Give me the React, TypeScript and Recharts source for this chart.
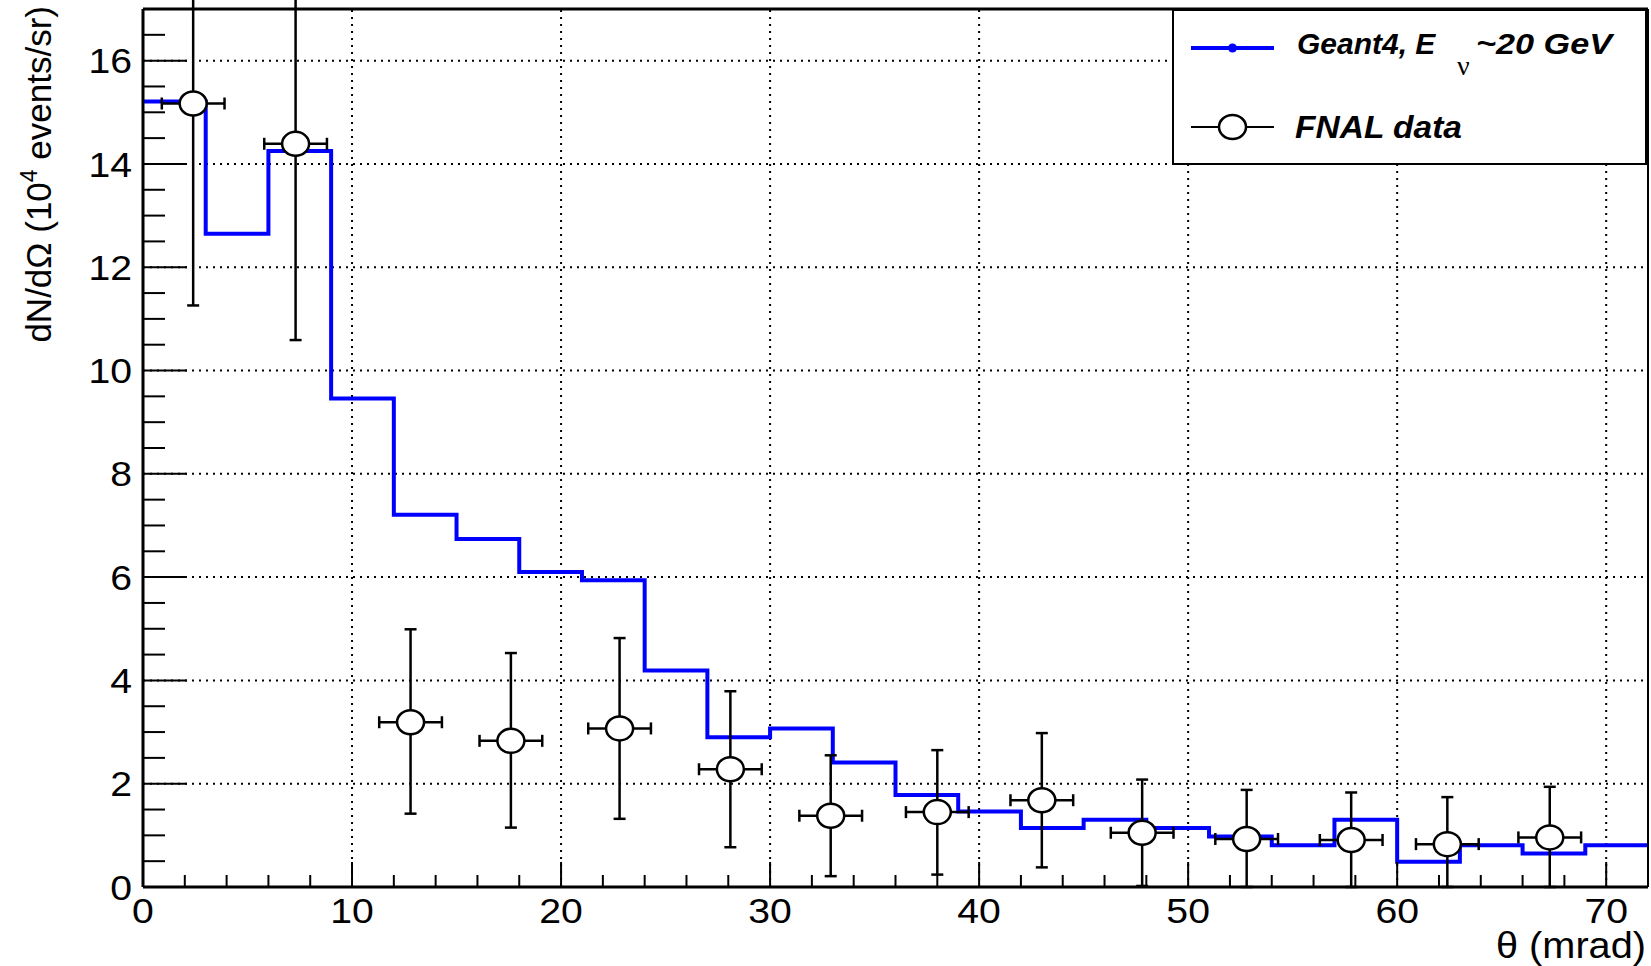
import {
  ComposedChart, Line, Scatter, ErrorBar, XAxis, YAxis, ReferenceLine, Legend
} from 'recharts';

// Geant4 histogram: 3 mrad bins, lower edges
const g4BinLow = [0, 3, 6, 9, 12, 15, 18, 21, 24, 27, 30, 33, 36, 39, 42, 45, 48, 51, 54, 57, 60, 63, 66, 69];
const g4Values = [15.21, 12.65, 14.25, 9.46, 7.21, 6.74, 6.10, 5.94, 4.19, 2.90, 3.07, 2.41, 1.78, 1.46, 1.14, 1.30, 1.14, 0.98, 0.81, 1.30, 0.49, 0.81, 0.65, 0.81];
const X_MAX = 72;
const Y_MAX = 17;

// FNAL data points
const fnalTheta = [2.4, 7.3, 12.8, 17.6, 22.8, 28.1, 32.9, 38.0, 43.0, 47.8, 52.8, 57.8, 62.4, 67.3];
const fnalValues = [15.17, 14.39, 3.19, 2.83, 3.07, 2.28, 1.38, 1.45, 1.68, 1.05, 0.93, 0.91, 0.83, 0.96];
const fnalErrLow = [3.91, 3.80, 1.77, 1.68, 1.75, 1.51, 1.17, 1.21, 1.30, 1.03, 0.93, 0.91, 0.83, 0.96];
const fnalErrHigh = [3.91, 3.80, 1.80, 1.70, 1.75, 1.51, 1.17, 1.20, 1.30, 1.03, 0.95, 0.92, 0.91, 0.98];
const fnalThetaErr = [1.5, 1.5, 1.5, 1.5, 1.5, 1.5, 1.5, 1.5, 1.5, 1.5, 1.5, 1.5, 1.5, 1.5];

const xMajor = [10, 20, 30, 40, 50, 60, 70];
const yMajor = [2, 4, 6, 8, 10, 12, 14, 16];
const xTicks = Array.from({ length: 37 }, (_, i) => i * 2);
const yTicks = Array.from({ length: 34 }, (_, i) => i * 0.5);

const histData = [
  ...g4BinLow.map((x, i) => ({ x, y: g4Values[i] })),
  { x: X_MAX, y: g4Values[g4Values.length - 1] },
];

const fnalData = fnalTheta.map((x, i) => ({
  x,
  y: fnalValues[i],
  ex: fnalThetaErr[i],
  ey: [fnalErrLow[i], fnalErrHigh[i]],
}));

const FONT = '"Liberation Sans", Arial, Helvetica, sans-serif';

const XTick = (props: any) => {
  const { x, y, payload } = props;
  const v = payload.value;
  const major = v % 10 === 0;
  return (
    <g>
      {v > 0 && v < X_MAX && (
        <line x1={x} x2={x} y1={y} y2={y - (major ? 25 : 12)} stroke="#000" strokeWidth={2} />
      )}
      {major && (
        <text transform={`translate(${x},${y + 36}) scale(1.12,1)`} textAnchor="middle" fontSize={35} fill="#000" fontFamily={FONT}>{v}</text>
      )}
    </g>
  );
};

const YTick = (props: any) => {
  const { x, y, payload } = props;
  const v = payload.value;
  const major = v % 2 === 0;
  return (
    <g>
      {v > 0 && (
        <line x1={x} x2={x + (major ? 44 : 22)} y1={y} y2={y} stroke="#000" strokeWidth={2} />
      )}
      {major && (
        <text transform={`translate(${x - 11},${y}) scale(1.12,1)`} dy="0.36em" textAnchor="end" fontSize={35} fill="#000" fontFamily={FONT}>{v}</text>
      )}
    </g>
  );
};

const OpenCircle = (props: any) => (
  <ellipse cx={props.cx} cy={props.cy} rx={13.5} ry={12} fill="#fff" stroke="#000" strokeWidth={2.5} />
);

const LegendBox = () => (
  <div style={{ width: 475, height: 156, boxSizing: 'border-box', border: '2px solid #000', background: '#fff' }}>
    <svg width={471} height={152} style={{ display: 'block' }}>
      <line x1={17} x2={100} y1={37} y2={37} stroke="#0000ff" strokeWidth={4} />
      <circle cx={58.5} cy={37} r={4.5} fill="#0000ff" />
      <text x={123} y={43} fontSize={30} fontWeight="bold" fontStyle="italic" fontFamily={FONT}>Geant4, E</text>
      <text x={283} y={64} fontSize={28} fontFamily='"Liberation Serif", "DejaVu Serif", serif'>ν</text>
      <text x={302} y={43} fontSize={30} fontWeight="bold" fontStyle="italic" fontFamily={FONT} textLength={136} lengthAdjust="spacingAndGlyphs">~20 GeV</text>
      <line x1={17} x2={100} y1={116} y2={116} stroke="#000" strokeWidth={2} />
      <ellipse cx={58.5} cy={116} rx={13.5} ry={12} fill="#fff" stroke="#000" strokeWidth={2.5} />
      <text x={121} y={127} fontSize={31} fontWeight="bold" fontStyle="italic" fontFamily={FONT} textLength={167} lengthAdjust="spacingAndGlyphs">FNAL data</text>
    </svg>
  </div>
);

const YTitle = () => (
  <text x={51} y={6} transform="rotate(-90 51 6)" textAnchor="end" fontSize={35} fill="#000" fontFamily={FONT}>
    dN/dΩ (10<tspan dy={-14} fontSize={23}>4</tspan><tspan dy={14}> events/sr)</tspan>
  </text>
);

const XTitle = () => (
  <text x={1646} y={958} textAnchor="end" fontSize={36} fill="#000" fontFamily={FONT} textLength={150} lengthAdjust="spacingAndGlyphs">θ (mrad)</text>
);

export default function App() {
  return (
    <div style={{ position: 'absolute', left: 0, top: 0, fontFamily: FONT, background: '#fff' }}>
      <ComposedChart width={1651} height={966} margin={{ top: 9, right: 3, bottom: 0, left: 0 }}>
        <XAxis
          type="number"
          dataKey="x"
          domain={[0, X_MAX]}
          ticks={xTicks}
          interval={0}
          allowDataOverflow
          height={79}
          tickSize={0}
          tickMargin={0}
          tickLine={false}
          tick={<XTick />}
          axisLine={{ stroke: '#000', strokeWidth: 3 }}
          label={<XTitle />}
        />
        <YAxis
          type="number"
          domain={[0, Y_MAX]}
          ticks={yTicks}
          interval={0}
          allowDataOverflow
          width={143}
          tickSize={0}
          tickMargin={0}
          tickLine={false}
          tick={<YTick />}
          axisLine={{ stroke: '#000', strokeWidth: 3 }}
          label={<YTitle />}
        />
        {xMajor.map((v) => (
          <ReferenceLine key={'gx' + v} x={v} stroke="#000" strokeWidth={2} strokeDasharray="2 5" />
        ))}
        {yMajor.map((v) => (
          <ReferenceLine key={'gy' + v} y={v} stroke="#000" strokeWidth={2} strokeDasharray="2 5" />
        ))}
        <Line
          data={histData}
          dataKey="y"
          type="stepAfter"
          stroke="#0000ff"
          strokeWidth={4}
          dot={false}
          activeDot={false}
          isAnimationActive={false}
        />
        <Scatter data={fnalData} dataKey="y" shape={OpenCircle} isAnimationActive={false}>
          <ErrorBar dataKey="ex" direction="x" width={6} stroke="#000" strokeWidth={2.5} isAnimationActive={false} />
          <ErrorBar dataKey="ey" direction="y" width={6} stroke="#000" strokeWidth={2.5} isAnimationActive={false} />
        </Scatter>
        <ReferenceLine y={Y_MAX} stroke="#000" strokeWidth={3} />
        <ReferenceLine x={X_MAX} stroke="#000" strokeWidth={2} />
        <Legend
          content={<LegendBox />}
          layout="horizontal"
          verticalAlign="middle"
          align="center"
          wrapperStyle={{ position: 'absolute', left: 1172, top: 9, width: 475, height: 156 }}
        />
      </ComposedChart>
    </div>
  );
}
